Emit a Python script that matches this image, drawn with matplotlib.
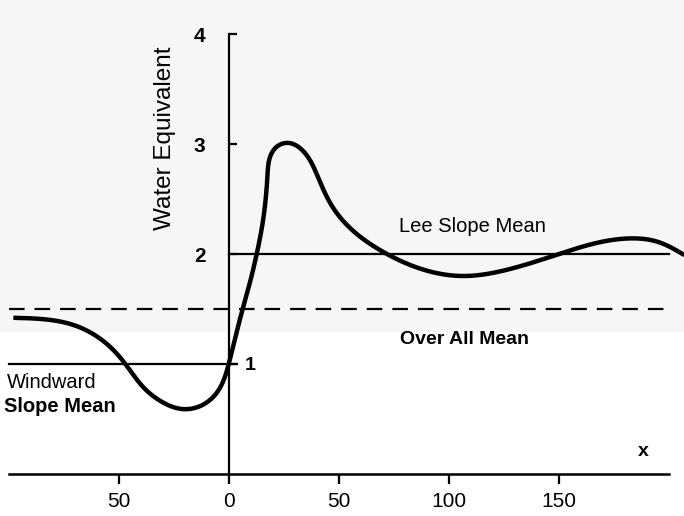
import numpy as np
import matplotlib
matplotlib.use("Agg")
import matplotlib.pyplot as plt

plt.rcParams['font.family'] = ['Liberation Sans', 'DejaVu Sans']

# profile (distance, water equivalent)
dist = [-98, -81, -70, -60, -52.7, -46, -39, -30, -21, -11.8, -5.5, 0, 5.0,
        9.5, 12.7, 15.2, 17.5, 19, 22, 27, 33, 40, 47, 57, 70, 85, 106, 125,
        150, 180, 195, 207]
water = [1.42, 1.40, 1.35, 1.25, 1.13, 0.97, 0.79, 0.65, 0.59, 0.63, 0.74,
         1.01, 1.41, 1.74, 2.01, 2.27, 2.72, 2.9, 2.98, 3.01, 2.95, 2.72,
         2.43, 2.2, 2.02, 1.88, 1.80, 1.85, 2.0, 2.14, 2.11, 1.99]

windward_mean = 1.0
lee_mean = 2.0
overall_mean = 1.5

xticks = [-50, 0, 50, 100, 150]
xtick_labels = ['50', '0', '50', '100', '150']
yticks = [1, 2, 3, 4]
ytick_labels = ['', '2', '3', '4']

# pixel scale of the original: 2.2 px per unit on x, 110 px per unit on y
SX, SY = 2.2, 110.0

def natural_spline(t, v, tt):
    """natural cubic spline of v(t) evaluated at tt"""
    n = len(t)
    h = np.diff(t)
    A = np.zeros((n, n))
    b = np.zeros(n)
    A[0, 0] = A[-1, -1] = 1
    for i in range(1, n - 1):
        A[i, i - 1] = h[i - 1]
        A[i, i] = 2 * (h[i - 1] + h[i])
        A[i, i + 1] = h[i]
        b[i] = 6 * ((v[i + 1] - v[i]) / h[i] - (v[i] - v[i - 1]) / h[i - 1])
    M = np.linalg.solve(A, b)
    k = np.clip(np.searchsorted(t, tt) - 1, 0, n - 2)
    d0 = t[k + 1] - tt
    d1 = tt - t[k]
    hk = h[k]
    return (M[k] * d0 ** 3 / (6 * hk) + M[k + 1] * d1 ** 3 / (6 * hk)
            + (v[k] / hk - M[k] * hk / 6) * d0
            + (v[k + 1] / hk - M[k + 1] * hk / 6) * d1)

def smooth_curve(xs, ys):
    px_ = np.asarray(xs) * SX
    py_ = np.asarray(ys) * SY
    t = np.concatenate([[0], np.cumsum(np.hypot(np.diff(px_), np.diff(py_)))])
    tt = np.linspace(0, t[-1], 1500)
    return natural_spline(t, px_, tt) / SX, natural_spline(t, py_, tt) / SY

fig = plt.figure(figsize=(6.84, 5.16), dpi=100)
ax = fig.add_axes([0, 0, 1, 1])

ax.set_xlim(-229 / SX, (684 - 229) / SX)
ax.set_ylim((474 - 516) / SY, 474 / SY)

# light grey scan tint on the upper part
ax.axhspan((474 - 332) / SY, 474 / SY, color='#f6f6f6', zorder=0, lw=0)

cx, cy = smooth_curve(dist, water)
ax.plot(cx, cy, color='black', lw=3.2, solid_capstyle='butt', zorder=5)

ax.plot([-100, 3.5], [windward_mean, windward_mean], color='black', lw=1.6)
ax.plot([0, 200], [lee_mean, lee_mean], color='black', lw=1.6)
ax.plot([-100, 200], [overall_mean, overall_mean], color='black', lw=1.6,
        dashes=(7, 4.5))

for s in ['top', 'right']:
    ax.spines[s].set_visible(False)
ax.spines['left'].set_position(('data', 0))
ax.spines['bottom'].set_position(('data', 0))
ax.spines['left'].set_bounds(0, 4)
ax.spines['bottom'].set_bounds(-100, 200)
ax.spines['left'].set_linewidth(1.6)
ax.spines['bottom'].set_linewidth(1.8)

ax.set_xticks(xticks)
ax.set_xticklabels(xtick_labels)
ax.set_yticks(yticks)
ax.set_yticklabels(ytick_labels)
ax.tick_params(axis='x', direction='out', length=7, width=1.6, pad=6, labelsize=15)
ax.tick_params(axis='y', direction='in', length=6, width=1.6, pad=17, labelsize=15)
for lab in ax.get_yticklabels():
    lab.set_fontweight('bold')

def px(x, y):
    return (x / 684, 1 - y / 516)

fig.text(*px(250, 366), '1', fontsize=14, fontweight='bold', ha='center', va='center')
fig.text(*px(165, 138), 'Water Equivalent', rotation=90,
         fontsize=17.5, ha='center', va='center')
fig.text(*px(472, 226), 'Lee Slope Mean', fontsize=14.5, ha='center', va='center')
fig.text(*px(465, 340), 'Over All Mean', fontsize=14, fontweight='bold',
         ha='center', va='center')
fig.text(*px(7, 383), 'Windward', fontsize=14.5, ha='left', va='center')
fig.text(*px(4, 406), 'Slope Mean', fontsize=14.5, fontweight='bold',
         ha='left', va='center')
fig.text(*px(643, 452), 'x', fontsize=14, fontweight='bold', ha='center', va='center')

fig.savefig('out.png', dpi=100)
